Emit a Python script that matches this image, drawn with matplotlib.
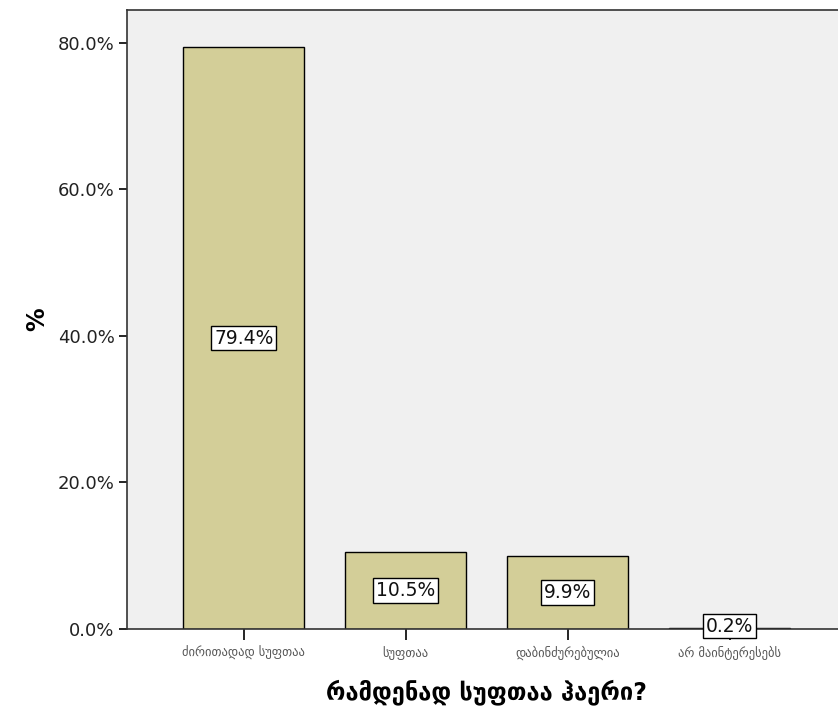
import matplotlib
matplotlib.use("Agg")
import matplotlib.pyplot as plt
from matplotlib.ticker import FuncFormatter

categories = ["ძირითადად სუფთაა", "სუფთაა", "დაბინძურებულია", "არ მაინტერესებს"]
percents = [79.4, 10.5, 9.9, 0.2]
value_labels = ["79.4%", "10.5%", "9.9%", "0.2%"]
yticks = [0, 20, 40, 60, 80]

plt.rcParams['font.family'] = ['DejaVu Sans']

fig = plt.figure(figsize=(8.38, 7.13), dpi=100)
ax = fig.add_axes([0.1516, 0.1178, 0.8484 + 0.01, 0.986 - 0.1178])
ax.set_facecolor('#F0F0F0')

x = list(range(len(categories)))
ax.bar(x, percents, width=0.75, color='#D3CE98', edgecolor='black', linewidth=1.0, zorder=2)

for xi, v, lab in zip(x, percents, value_labels):
    ax.text(xi, max(v / 2, 0.4), lab, ha='center', va='center', fontsize=13.5, zorder=3,
            color='#111111',
            bbox=dict(boxstyle='square,pad=0.15', facecolor='white', edgecolor='black', linewidth=1.0))

ax.set_xlim(-0.72, 3.72)
ax.set_ylim(0, 84.5)
ax.set_yticks(yticks)
ax.yaxis.set_major_formatter(FuncFormatter(lambda v, p: f"{v:.1f}%"))
ax.set_xticks(x)
ax.set_xticklabels(categories, fontsize=9, color='#555555')
ax.tick_params(axis='y', labelsize=13, length=6, width=1.2, colors='black', labelcolor='#222222', pad=3)
ax.tick_params(axis='x', length=8, width=1.2, pad=4)

for s in ['left', 'top', 'bottom']:
    ax.spines[s].set_linewidth(1.2)
    ax.spines[s].set_color('#333333')
ax.spines['right'].set_visible(False)

ax.set_ylabel('%', fontsize=17, fontweight='bold', labelpad=6)
ax.set_xlabel('რამდენად სუფთაა ჰაერი?', fontsize=17, fontweight='bold', labelpad=14)

fig.savefig('out.png', dpi=100, facecolor='white')
